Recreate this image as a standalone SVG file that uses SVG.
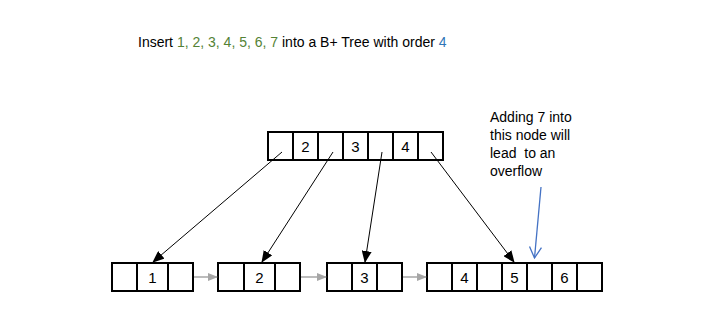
<svg xmlns="http://www.w3.org/2000/svg" width="701" height="331" viewBox="0 0 701 331">
<style>
text{font-family:"Liberation Sans",Arial,sans-serif;font-size:14px;fill:#000;white-space:pre}
.cell{fill:#fff;stroke:#000;stroke-width:2}
.num{text-anchor:middle;font-size:15px}
.g{fill:#548235}
.b{fill:#2E75B6}
.ptr{stroke:#000;stroke-width:1;fill:none}
.sib{stroke:#A6A6A6;stroke-width:1.5;fill:none}
.note{stroke:#4472C4;stroke-width:1.3;fill:none}
</style>
<defs>
<marker id="ah" markerUnits="userSpaceOnUse" markerWidth="12" markerHeight="10" refX="11" refY="5" orient="auto"><path d="M0,0 L12,5 L0,10 z" fill="#000"/></marker>
<marker id="gh" markerUnits="userSpaceOnUse" markerWidth="10" markerHeight="8" refX="9" refY="4" orient="auto"><path d="M0,0 L10,4 L0,8 z" fill="#A6A6A6"/></marker>
<marker id="bh" markerUnits="userSpaceOnUse" markerWidth="14" markerHeight="14" refX="12" refY="7" orient="auto"><path d="M1,1 L12,7 L1,13" fill="none" stroke="#4472C4" stroke-width="1.3"/></marker>
</defs>
<rect width="701" height="331" fill="#fff"/>
<g id="title">
<text x="138" y="47">Insert <tspan class="g">1, 2, 3, 4, 5, 6, 7</tspan> into a B+ Tree with order <tspan class="b">4</tspan></text>
</g>
<g id="root">
<rect class="cell" x="268" y="132" width="175" height="28"/>
<path d="M293,132V160M318,132V160M343,132V160M368,132V160M393,132V160M418,132V160" stroke="#000" stroke-width="2"/>
<text class="num" x="305.5" y="152">2</text>
<text class="num" x="355.5" y="152">3</text>
<text class="num" x="405.5" y="152">4</text>
</g>
<g id="leaf1">
<rect class="cell" x="112" y="263" width="81" height="28"/>
<path d="M137,263V291M168,263V291" stroke="#000" stroke-width="2"/>
<text class="num" x="152.5" y="283">1</text>
</g>
<g id="leaf2">
<rect class="cell" x="218" y="263" width="82" height="28"/>
<path d="M244,263V291M275,263V291" stroke="#000" stroke-width="2"/>
<text class="num" x="259.5" y="283">2</text>
</g>
<g id="leaf3">
<rect class="cell" x="327" y="263" width="75" height="28"/>
<path d="M352,263V291M377,263V291" stroke="#000" stroke-width="2"/>
<text class="num" x="364.5" y="283">3</text>
</g>
<g id="leaf4">
<rect class="cell" x="427" y="263" width="175" height="28"/>
<path d="M452,263V291M477,263V291M502,263V291M527,263V291M552,263V291M577,263V291" stroke="#000" stroke-width="2"/>
<text class="num" x="464.5" y="283">4</text>
<text class="num" x="514.5" y="283">5</text>
<text class="num" x="564.5" y="283">6</text>
</g>
<g id="annotation">
<text x="490" y="122">Adding 7 into</text>
<text x="490" y="140">this node will</text>
<text x="490" y="158" xml:space="preserve">lead  to an</text>
<text x="490" y="176">overflow</text>
</g>
<g id="connectors">
<line class="ptr" x1="282" y1="152" x2="153" y2="262" marker-end="url(#ah)"/>
<line class="ptr" x1="333" y1="152" x2="262" y2="262" marker-end="url(#ah)"/>
<line class="ptr" x1="382" y1="152" x2="365" y2="262" marker-end="url(#ah)"/>
<line class="ptr" x1="431" y1="152" x2="514" y2="262" marker-end="url(#ah)"/>
<line class="sib" x1="194" y1="277" x2="217" y2="277" marker-end="url(#gh)"/>
<line class="sib" x1="301" y1="277" x2="326" y2="277" marker-end="url(#gh)"/>
<line class="sib" x1="403" y1="277" x2="426" y2="277" marker-end="url(#gh)"/>
<line class="note" x1="541" y1="187" x2="534.5" y2="258" marker-end="url(#bh)"/>
</g>
</svg>
